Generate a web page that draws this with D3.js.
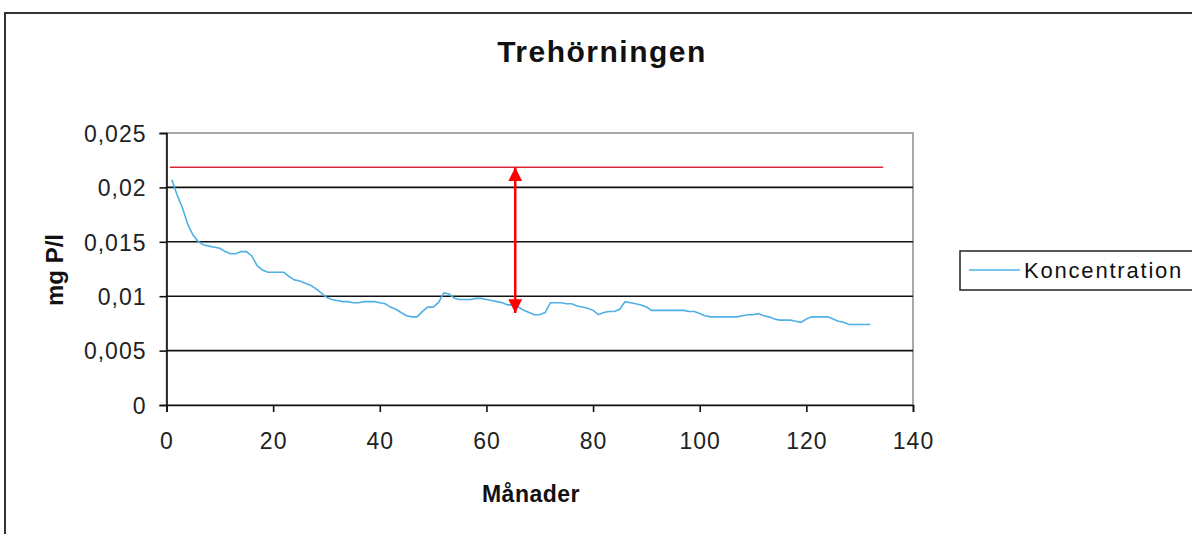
<!DOCTYPE html>
<html>
<head>
<meta charset="utf-8">
<script src="https://cdn.jsdelivr.net/npm/d3@7"></script>
<style>
html,body{margin:0;padding:0;background:#fff;}
svg{display:block;font-family:"Liberation Sans",Arial,sans-serif;}
</style>
</head>
<body>
<svg id="chart" width="1192" height="534"></svg>
<script>
// ---- data ----
const title = "Trehörningen";
const xLabel = "Månader";
const yLabel = "mg P/l";
const seriesName = "Koncentration";
const months = d3.range(1, 133);
const concentration = [
  0.0207,0.0193,0.0181,0.0166,0.0156,0.0150,0.0147,0.0146,0.0145,0.0144,
  0.0141,0.0139,0.0139,0.0141,0.0141,0.0137,0.0128,0.0124,0.0122,0.0122,
  0.0122,0.0122,0.0118,0.0115,0.0114,0.0112,0.0110,0.0107,0.0103,0.0099,
  0.0097,0.0096,0.0095,0.0095,0.0094,0.0094,0.0095,0.0095,0.0095,0.0094,
  0.0093,0.0090,0.0088,0.0085,0.0082,0.0081,0.0081,0.0086,0.0090,0.0090,
  0.0094,0.0103,0.0102,0.0098,0.0097,0.0097,0.0097,0.0098,0.0098,0.0097,
  0.0096,0.0095,0.0094,0.0092,0.0092,0.0090,0.0087,0.0085,0.0083,0.0083,
  0.0085,0.0094,0.0094,0.0094,0.0093,0.0093,0.0091,0.0090,0.0089,0.0087,
  0.0083,0.0085,0.0086,0.0086,0.0088,0.0095,0.0094,0.0093,0.0092,0.0090,
  0.0087,0.0087,0.0087,0.0087,0.0087,0.0087,0.0087,0.0086,0.0086,0.0084,
  0.0082,0.0081,0.0081,0.0081,0.0081,0.0081,0.0081,0.0082,0.0083,0.0083,
  0.0084,0.0082,0.0081,0.0079,0.0078,0.0078,0.0078,0.0077,0.0076,0.0079,
  0.0081,0.0081,0.0081,0.0081,0.0079,0.0077,0.0076,0.0074,0.0074,0.0074,
  0.0074,0.0074
];
const xTicks = [0,20,40,60,80,100,120,140];
const yTicks = [0,0.005,0.01,0.015,0.02,0.025];
const yTickLabels = ["0","0,005","0,01","0,015","0,02","0,025"];
const refLevel = 0.02185;          // red reference line
const refRange = [0.65, 134.4];    // x extent of red line
const arrowX = 65.4;               // month position of double arrow
const arrowRange = [0.00846, 0.02185];

// ---- layout ----
const svg = d3.select("#chart");
const L = 166.5, R = 913, T = 133, B = 405;
const x = d3.scaleLinear().domain([0,140]).range([L,R]);
const y = d3.scaleLinear().domain([0,0.025]).range([B,T]);

// outer frame
svg.append("rect").attr("x",5).attr("y",13).attr("width",1200).attr("height",540)
  .attr("fill","#fff").attr("stroke","#333").attr("stroke-width",2);

// plot border (gray)
svg.append("rect").attr("x",L).attr("y",T).attr("width",R-L).attr("height",B-T)
  .attr("fill","none").attr("stroke","#8c8c8c").attr("stroke-width",1.5);

// gridlines
svg.append("g").selectAll("line").data(yTicks.filter(d=>d>0 && d<0.025)).join("line")
  .attr("x1",L).attr("x2",R).attr("y1",d=>y(d)).attr("y2",d=>y(d))
  .attr("stroke","#111").attr("stroke-width",1.6);

// axes
const yAxis = d3.axisLeft(y).tickValues(yTicks).tickSize(7).tickPadding(13)
  .tickFormat((d,i)=>yTickLabels[i]);
const gy = svg.append("g").attr("transform",`translate(${L},0)`).call(yAxis);
const xAxis = d3.axisBottom(x).tickValues(xTicks).tickSize(7).tickPadding(21);
const gx = svg.append("g").attr("transform",`translate(0,${B})`).call(xAxis);
[gy,gx].forEach(g=>{
  g.select(".domain").attr("stroke","#111").attr("stroke-width",1.6);
  g.selectAll(".tick line").attr("stroke","#111").attr("stroke-width",1.6);
  g.selectAll(".tick text").attr("font-family","'Liberation Sans',Arial,sans-serif")
    .attr("font-size",23).attr("fill","#222").attr("letter-spacing","1");
});
gy.selectAll(".tick text").attr("dy","0.36em");

// red reference line
svg.append("line").attr("x1",x(refRange[0])).attr("x2",x(refRange[1]))
  .attr("y1",y(refLevel)).attr("y2",y(refLevel))
  .attr("stroke","#d8283a").attr("stroke-width",1.6);

// data line
const line = d3.line().x((d,i)=>x(months[i])).y(d=>y(d));
svg.append("path").datum(concentration).attr("d",line)
  .attr("fill","none").attr("stroke","#4fb0e6").attr("stroke-width",1.6);

// double-headed arrow
const defs = svg.append("defs");
defs.append("marker").attr("id","ah").attr("viewBox","0 0 10 10").attr("refX",10).attr("refY",5)
  .attr("markerWidth",5.5).attr("markerHeight",5.5).attr("markerUnits","strokeWidth")
  .attr("orient","auto-start-reverse")
  .append("path").attr("d","M0,0 L10,5 L0,10 Z").attr("fill","#ff0000");
svg.append("line").attr("x1",x(arrowX)).attr("x2",x(arrowX))
  .attr("y1",y(arrowRange[1])).attr("y2",y(arrowRange[0]))
  .attr("stroke","#ff0000").attr("stroke-width",2.5)
  .attr("marker-start","url(#ah)").attr("marker-end","url(#ah)");

// title & labels
svg.append("text").attr("x",602).attr("y",62).attr("text-anchor","middle")
  .attr("font-weight","bold").attr("font-size",30).attr("letter-spacing","1.5").attr("fill","#111").text(title);
svg.append("text").attr("x",531).attr("y",502).attr("text-anchor","middle")
  .attr("font-weight","bold").attr("font-size",23).attr("letter-spacing","0.5").attr("fill","#111").text(xLabel);
svg.append("text").attr("transform","translate(63,270) rotate(-90)").attr("text-anchor","middle")
  .attr("font-weight","bold").attr("font-size",24).attr("fill","#111").text(yLabel);

// legend
svg.append("rect").attr("x",960).attr("y",251).attr("width",260).attr("height",39)
  .attr("fill","#fff").attr("stroke","#222").attr("stroke-width",1.5);
svg.append("line").attr("x1",969).attr("x2",1020).attr("y1",270).attr("y2",270)
  .attr("stroke","#4fb0e6").attr("stroke-width",1.6);
svg.append("text").attr("x",1024).attr("y",278).attr("font-size",22).attr("letter-spacing","1.8")
  .attr("fill","#111").text(seriesName);
</script>
</body>
</html>
